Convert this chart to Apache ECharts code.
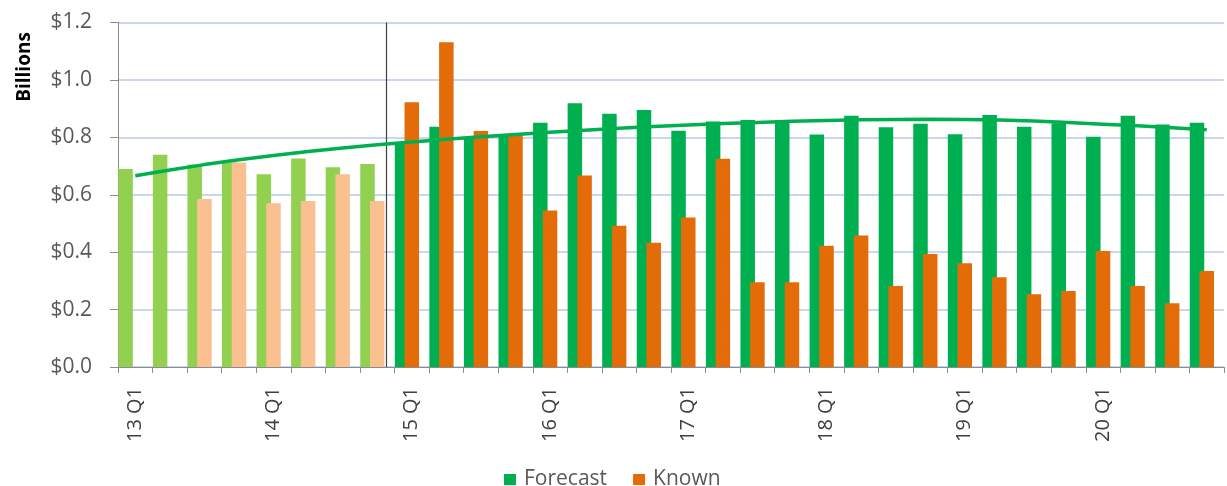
<!DOCTYPE html>
<html>
<head>
<meta charset="utf-8">
<script src="https://cdn.jsdelivr.net/npm/echarts@6/dist/echarts.min.js"></script>
<style>
  html, body { margin: 0; padding: 0; background: #ffffff; }
  #chart { width: 1227px; height: 486px; }
</style>
</head>
<body>
<div id="chart"></div>
<script>
// Quarters from 2013 Q1 to 2020 Q4
const quarters = [
  '13 Q1','13 Q2','13 Q3','13 Q4','14 Q1','14 Q2','14 Q3','14 Q4',
  '15 Q1','15 Q2','15 Q3','15 Q4','16 Q1','16 Q2','16 Q3','16 Q4',
  '17 Q1','17 Q2','17 Q3','17 Q4','18 Q1','18 Q2','18 Q3','18 Q4',
  '19 Q1','19 Q2','19 Q3','19 Q4','20 Q1','20 Q2','20 Q3','20 Q4'
];

// Forecast values, $ billions
const forecast = [
  0.690, 0.739, 0.705, 0.712, 0.671, 0.726, 0.696, 0.707,
  0.780, 0.837, 0.800, 0.808, 0.851, 0.919, 0.882, 0.895,
  0.823, 0.855, 0.860, 0.860, 0.810, 0.875, 0.835, 0.847,
  0.811, 0.878, 0.837, 0.849, 0.802, 0.875, 0.845, 0.851
];

// Known values, $ billions
const known = [
  null,  null,  0.585, 0.712, 0.570, 0.578, 0.671, 0.578,
  0.922, 1.131, 0.822, 0.808, 0.545, 0.667, 0.492, 0.433,
  0.521, 0.725, 0.295, 0.295, 0.422, 0.458, 0.282, 0.394,
  0.361, 0.313, 0.253, 0.265, 0.404, 0.282, 0.222, 0.334
];

// Forecast trend line
const trend = [
  0.666, 0.686, 0.705, 0.722, 0.737, 0.751, 0.763, 0.774,
  0.784, 0.793, 0.802, 0.810, 0.818, 0.825, 0.832, 0.838,
  0.843, 0.848, 0.852, 0.856, 0.859, 0.861, 0.862, 0.863,
  0.862, 0.860, 0.857, 0.852, 0.846, 0.840, 0.833, 0.826
];

const yTickLabels = ['$0.0', '$0.2', '$0.4', '$0.6', '$0.8', '$1.0', '$1.2'];

// Number of past quarters (drawn in lighter shades)
const pastQuarters = 8;
// Position of the "today" divider, in quarter units
const dividerAt = 7.77;

const C = {
  forecast: '#00B050', forecastPast: '#92D050',
  known: '#E36C09', knownPast: '#FAC090',
  grid: '#B7C8EA', axis: '#8C8C8C', text: '#595959'
};
const FONT = '"Open Sans", "Liberation Sans", sans-serif';

const chart = echarts.init(document.getElementById('chart'), null, { renderer: 'canvas' });

const shade = (arr, past, cur) => arr.map((v, i) => ({
  value: v, itemStyle: { color: i < pastQuarters ? past : cur }
}));

chart.setOption({
  animation: false,
  backgroundColor: '#ffffff',
  textStyle: { fontFamily: FONT },
  grid: { left: 118, right: 3, top: 22.5, bottom: 119, containLabel: false },
  legend: {
    data: ['Forecast', 'Known'],
    left: 499, top: 464,
    icon: 'rect', itemWidth: 12, itemHeight: 11, itemGap: 26,
    textStyle: { fontFamily: FONT, fontSize: 21, color: C.text, padding: [0, 0, 0, 3] }
  },
  graphic: [{
    type: 'text', x: 25, y: 67, rotation: Math.PI / 2,
    style: {
      text: 'Billions', fontFamily: FONT, fontSize: 19, fontWeight: 'bold',
      fill: '#000000', align: 'center', verticalAlign: 'middle'
    }
  }],
  xAxis: [{
    type: 'category', data: quarters, boundaryGap: true,
    axisLine: { lineStyle: { color: C.axis, width: 1 } },
    axisTick: { show: true, interval: 0, length: 6, lineStyle: { color: C.axis } },
    axisLabel: {
      interval: 3, rotate: 90, margin: 20,
      fontFamily: FONT, fontSize: 20, color: '#404040'
    },
    splitLine: { show: false }
  }, {
    type: 'value', min: 0, max: quarters.length, show: false
  }],
  yAxis: {
    type: 'value', min: 0, max: 1.2, interval: 0.2,
    axisLine: { show: true, lineStyle: { color: C.axis, width: 1 } },
    axisTick: { show: true, inside: false, length: 8, lineStyle: { color: C.axis } },
    axisLabel: {
      margin: 26, fontFamily: FONT, fontSize: 21, color: C.text,
      formatter: v => yTickLabels[Math.round(v / 0.2)]
    },
    splitLine: { show: true, lineStyle: { color: C.grid, width: 1.5 } }
  },
  series: [
    {
      name: 'Forecast', type: 'bar', barWidth: 14.5, barGap: '-33%',
      itemStyle: { color: C.forecast },
      data: shade(forecast, C.forecastPast, C.forecast), z: 2
    },
    {
      name: 'Known', type: 'bar', barWidth: 14.5, barGap: '-33%',
      itemStyle: { color: C.known },
      data: shade(known, C.knownPast, C.known), z: 3
    },
    {
      // empty slot that keeps the bar pair toward the left of each quarter
      name: 'spacer', type: 'bar', barWidth: 14.5, barGap: '-33%',
      data: quarters.map(() => null), silent: true
    },
    {
      name: 'Trend', type: 'line', data: trend, showSymbol: false, symbol: 'none',
      lineStyle: { color: C.forecast, width: 3.5 }, z: 5, silent: true
    },
    {
      name: 'divider', type: 'line', xAxisIndex: 1, data: [], silent: true,
      markLine: {
        silent: true, symbol: 'none', label: { show: false },
        lineStyle: { color: '#404040', width: 1.2, type: 'solid' },
        data: [{ xAxis: dividerAt }]
      }
    }
  ]
});
</script>
</body>
</html>
